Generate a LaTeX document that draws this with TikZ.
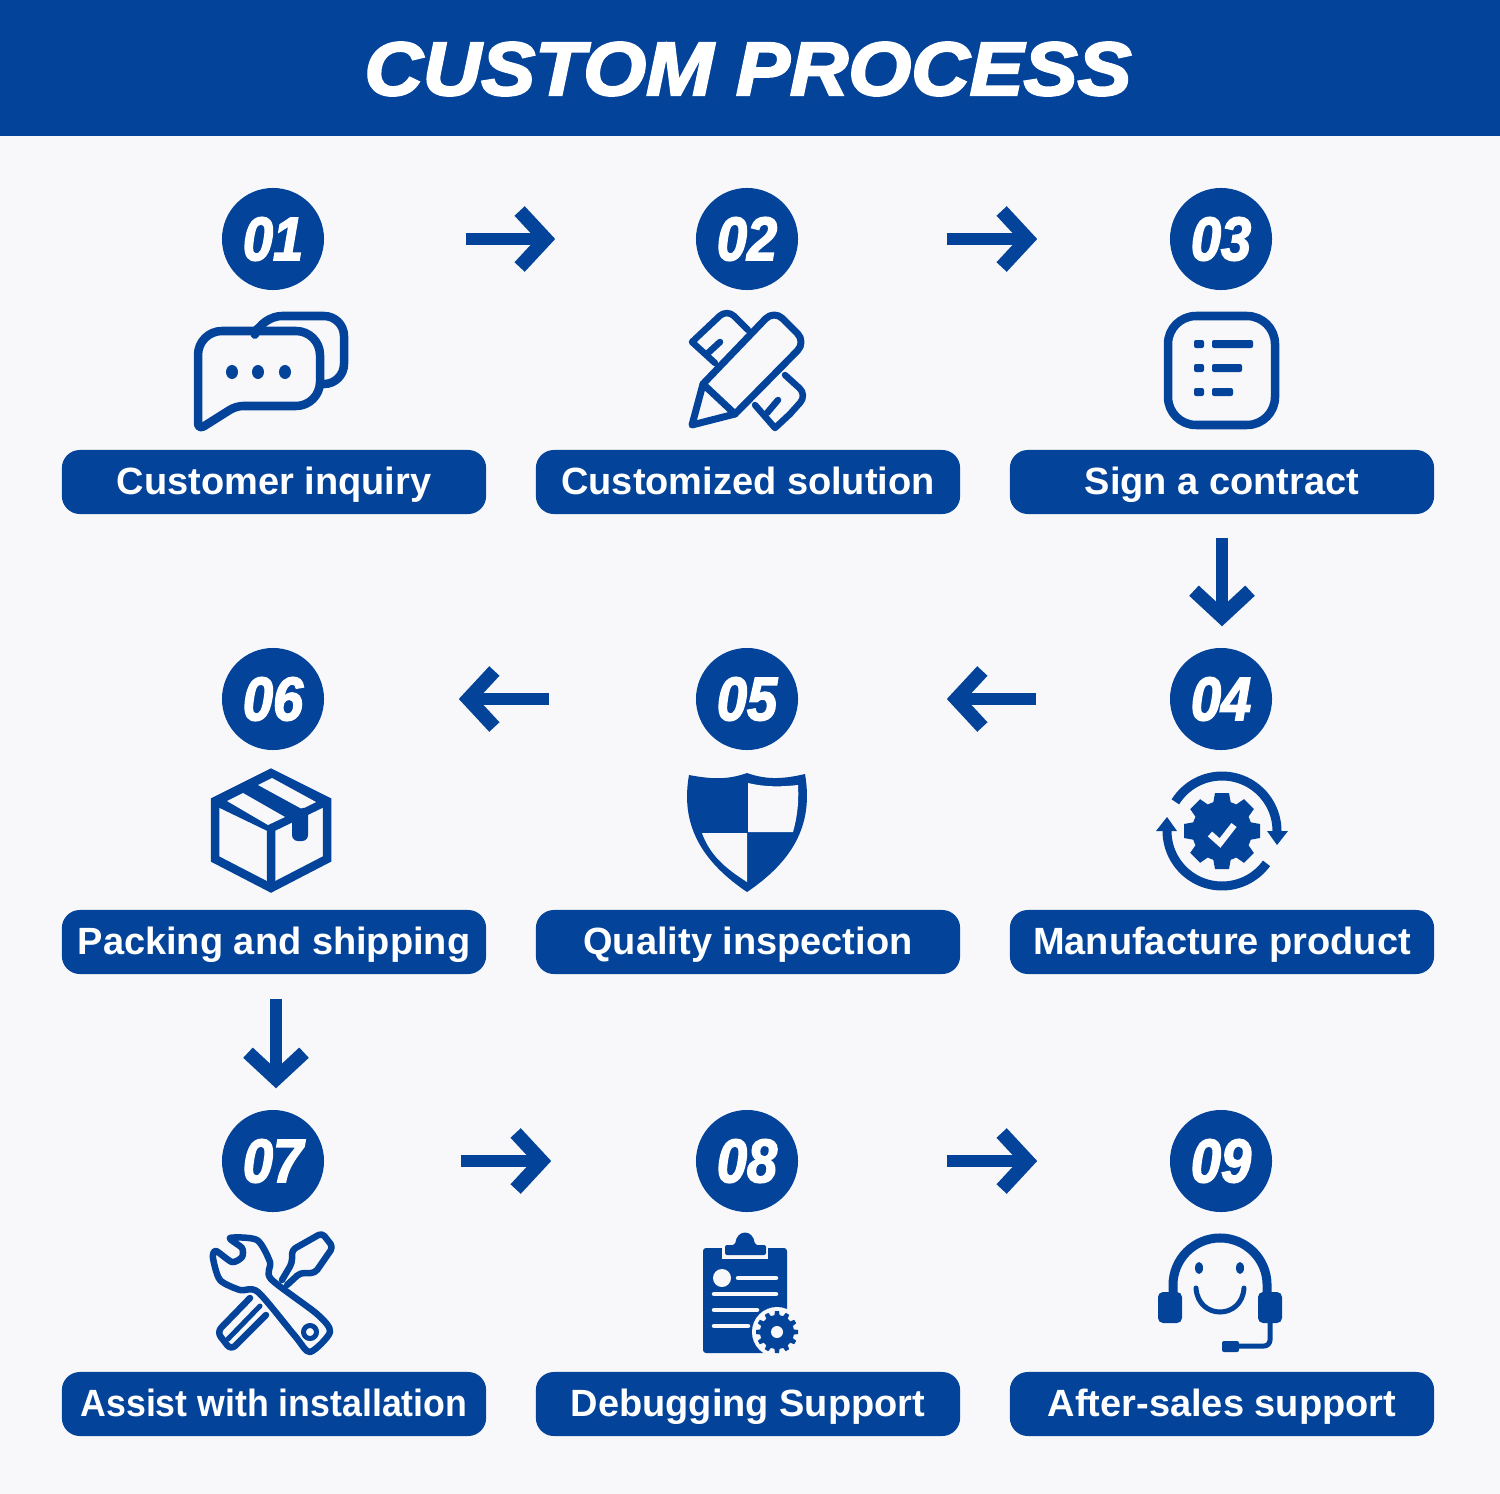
\documentclass[tikz,border=0pt]{standalone}
\usepackage{fontspec}
\setmainfont{Liberation Sans}
\newfontface\cptitlefont{Liberation Sans Bold Italic}[FakeBold=3, FakeStretch=1.07]
\newfontface\cpnumfont{Liberation Sans Bold Italic}[FakeBold=2.5, FakeStretch=0.88]
\newfontface\cplabelfont{Liberation Sans Bold}
\usetikzlibrary{arrows.meta}
\definecolor{cpBlue}{HTML}{03439A}
\definecolor{cpPale}{HTML}{F8F8FA}
\tikzset{
  cp badge/.style={circle, fill=cpBlue, minimum size=1.02cm, inner sep=0pt, text=white, font=\cpnumfont\fontsize{17.5}{20}\selectfont},
  cp label/.style={rounded corners=0.18cm, fill=cpBlue, minimum width=4.24cm, minimum height=0.64cm, inner sep=0pt, text height=0.28cm, text depth=0.04cm, text=white, font=\cplabelfont\fontsize{10.8}{13}\selectfont},
  cp title/.style={text=white, inner sep=0pt, font=\cptitlefont\fontsize{21.5}{26}\selectfont},
  cp flow/.style={draw=cpBlue, line width=0.12cm, -{Straight Barb[length=0.26cm, width=0.56cm, line width=0.14cm]}},
  cp line/.style={draw=cpBlue, line width=0.085cm, line join=round, line cap=round},
  cp thin/.style={draw=cpBlue, line width=0.065cm, line join=round, line cap=round},
  cp pale/.style={draw=cpPale, line width=0.045cm, line cap=round, line join=round},
}

\begin{document}
\begin{tikzpicture}[x=0.01cm, y=-0.01cm]
  \useasboundingbox (0,0) rectangle (1500,1494);
  \fill[cpPale] (0,0) rectangle (1500,1494);

  % Header band
  \fill[cpBlue] (0,0) rectangle (1500,136);
  \node[cp title] (title) at (748,69) {CUSTOM PROCESS};

  % Badges and labels
  \foreach \n/\x/\y/\txt in {01/273/239/Customer inquiry, 02/747/239/Customized solution, 03/1221/239/Sign a contract,
      04/1221/699/Manufacture product, 05/747/699/Quality inspection, 06/273/699/Packing and shipping,
      07/273/1161/\scalebox{0.94}[1]{Assist with installation}, 08/747/1161/Debugging Support, 09/1221/1161/After-sales support} {
    \node[cp badge] (badge\n) at (\x,\y) {\n};
    \node[cp label] (label\n) at (\x+1,\y+243) {\txt};
  }

  % Flow arrows
  \draw[cp flow, shorten <=1.41cm, shorten >=1.40cm] (badge01) -- (badge02);
  \draw[cp flow, shorten <=1.48cm, shorten >=1.32cm] (badge02) -- (badge03);
  \draw[cp flow, shorten <=0.23cm, shorten >=0.21cm] (label03.south) -- (label03.south |- badge04.north);
  \draw[cp flow, shorten <=1.33cm, shorten >=1.48cm] (badge04) -- (badge05);
  \draw[cp flow, shorten <=1.46cm, shorten >=1.34cm] (badge05) -- (badge06);
  \draw[cp flow, shorten <=0.24cm, shorten >=0.21cm] ([xshift=0.03cm]badge07.north |- label06.south) -- ([xshift=0.03cm]badge07.north);
  \draw[cp flow, shorten <=1.36cm, shorten >=1.44cm] (badge07) -- (badge08);
  \draw[cp flow, shorten <=1.48cm, shorten >=1.32cm] (badge08) -- (badge09);

  % 01: chat bubbles
  \draw[cp line, rounded corners=0.2cm] (257,329) -- (262,316) -- (344,316) -- (344,384) -- (322,384);
  \draw[cp line] (236,406) [rounded corners=0.24cm] -- (320,406) -- (320,331) -- (198,331) [rounded corners=0.07cm] -- (198,430) -- cycle;
  \foreach \x in {232,258,285} {
    \fill[cpBlue] (\x,372) ellipse [x radius=0.06cm, y radius=0.07cm];
  }

  % 02: pencil over ruler
  \draw[cp thin, rounded corners=0.1cm] (748,330) -- (727,309) -- (709,326);
  \draw[cp thin] (709,326) -- (692,342) -- (715,363);
  \draw[cp thin] (720,342) -- (708,353);
  \draw[cp thin, rounded corners=0.1cm] (785,375) -- (807,395) -- (790,414);
  \draw[cp thin] (790,414) -- (775,428) -- (755,405);
  \draw[cp thin] (778,400) -- (767,413);
  \draw[cp thin, line width=0.07cm] (703,384) [rounded corners=0.12cm] -- (774,310) -- (806,342) [sharp corners] -- (735,414) -- (692,425) -- cycle;
  \draw[cp thin, line width=0.07cm] (703,384) -- (735,414);

  % 03: list
  \draw[cp line, rounded corners=0.28cm] (1168,316) rectangle (1275,425);
  \foreach \y/\e in {344/1253,368/1242,392/1233} {
    \fill[cpBlue, rounded corners=0.02cm] (1194,\y-4) rectangle (1204,\y+4);
    \fill[cpBlue, rounded corners=0.02cm] (1212,\y-4) rectangle (\e,\y+4);
  }

  % 04: gear with turning arrows
  \fill[cpBlue] (1222,831) circle [radius=0.3cm];
  \foreach \a in {0,45,...,315} {
    \fill[cpBlue, rotate around={\a:(1222,831)}] (1215,793) -- (1229,793) -- (1233,815) -- (1211,815) -- cycle;
  }
  \draw[draw=cpPale, line width=0.065cm] (1210,834) -- (1220,843) -- (1234,825);
  \draw[draw=cpBlue, line width=0.09cm] plot[domain=148:0, samples=40] ({1222+55*cos(\x)},{831-55*sin(\x)});
  \draw[draw=cpBlue, line width=0.09cm] plot[domain=-36:-180, samples=40] ({1222+55*cos(\x)},{831-55*sin(\x)});
  \fill[cpBlue] (1267,831) -- (1288,831) -- (1277,845) -- cycle;
  \fill[cpBlue] (1156,831) -- (1177,831) -- (1167,817) -- cycle;

  % 05: shield
  \fill[cpBlue] (689,775) .. controls (715,780) and (730,779) .. (747,773) .. controls (764,779) and (780,780) .. (805,774)
    .. controls (812,815) and (802,855) .. (747,892) .. controls (692,855) and (682,815) .. (689,775) -- cycle;
  \fill[cpPale] (748,783) .. controls (765,787) and (780,787) .. (798,785) .. controls (799,803) and (797,818) .. (793,832) -- (748,832) -- cycle;
  \fill[cpPale] (702,833) -- (747,833) -- (747,882) .. controls (725,868) and (710,855) .. (702,833) -- cycle;

  % 06: parcel
  \fill[cpBlue] (271,773) -- (327,801) -- (271,828) -- (215,801) -- cycle;
  \draw[cp line, line join=miter] (271,773) -- (327,801) -- (327,859) -- (271,888) -- (215,859) -- (215,801) -- cycle;
  \draw[cp line, line cap=butt, line join=miter] (215,801) -- (271,828) -- (327,801) (271,828) -- (271,888);
  \fill[cpPale] (227,801) -- (243,793) -- (285,817) -- (268,825) -- cycle;
  \fill[cpPale] (258,785) -- (272,778) -- (316,802) -- (302,809) -- cycle;
  \fill[cpBlue, rounded corners=0.06cm] (292,812) -- (308,806) -- (308,841) -- (292,841) -- cycle;

  % 07: screwdriver under wrench
  \draw[cp thin, rounded corners=0.04cm] (282,1280) -- (292,1263) -- (292,1250) -- (322,1233) -- (333,1247) -- (315,1273) -- (300,1273) -- (287,1285);
  \draw[cp thin, rounded corners=0.06cm] (250,1298) -- (217,1332) -- (231,1350) -- (266,1315);
  \draw[cp thin, line width=0.05cm] (228,1339) -- (260,1306);
  \draw[cp thin, fill=cpPale] plot[smooth cycle, tension=0.45] coordinates {(230,1238) (257,1240) (270,1262) (271,1279) (317,1314) (330,1332) (310,1352) (295,1336) (258,1292) (240,1290) (220,1280) (213,1258) (216,1251) (232,1262) (242,1257) (242,1248)};
  \draw[cp thin, line width=0.05cm] (310,1332) circle [radius=0.065cm];

  % 08: clipboard with gear
  \fill[cpBlue, rounded corners=0.03cm] (703,1248) rectangle (787,1353);
  \fill[cpPale] (722,1248) rectangle (768,1259);
  \fill[cpBlue, rounded corners=0.02cm] (725,1255) -- (725,1245) -- (735,1245) .. controls (737,1229) and (753,1229) .. (755,1245) -- (766,1245) -- (766,1255) -- cycle;
  \fill[cpPale] (722,1278) circle [radius=0.09cm];
  \foreach \y/\s/\e in {1278/738/776,1294/714/776,1310/714/757,1326/714/748} {
    \draw[cp pale] (\s,\y) -- (\e,\y);
  }
  \fill[cpPale] (777,1332) circle [radius=0.25cm];
  \fill[cpBlue] (777,1332) circle [radius=0.17cm];
  \foreach \a in {0,30,...,330} {
    \fill[cpBlue, rotate around={\a:(777,1332)}] (775,1311) -- (779,1311) -- (780,1318) -- (774,1318) -- cycle;
  }
  \fill[cpPale] (777,1332) circle [radius=0.06cm];

  % 09: headset and smile
  \draw[draw=cpBlue, line width=0.09cm] (1173,1293) -- (1173,1285) arc [start angle=180, end angle=0, radius=0.47cm] -- (1267,1293);
  \fill[cpBlue, rounded corners=0.05cm] (1158,1292) rectangle (1182,1323);
  \fill[cpBlue, rounded corners=0.05cm] (1258,1292) rectangle (1282,1323);
  \fill[cpBlue] (1199,1268) ellipse [x radius=0.04cm, y radius=0.06cm];
  \fill[cpBlue] (1240,1268) ellipse [x radius=0.04cm, y radius=0.06cm];
  \draw[cp thin, line width=0.05cm] (1196,1288) .. controls (1198,1320) and (1242,1320) .. (1244,1288);
  \draw[cp thin, line width=0.05cm, rounded corners=0.06cm] (1270,1323) -- (1270,1346) -- (1237,1346);
  \fill[cpBlue, rounded corners=0.02cm] (1222,1341) rectangle (1239,1352);
\end{tikzpicture}
\end{document}
